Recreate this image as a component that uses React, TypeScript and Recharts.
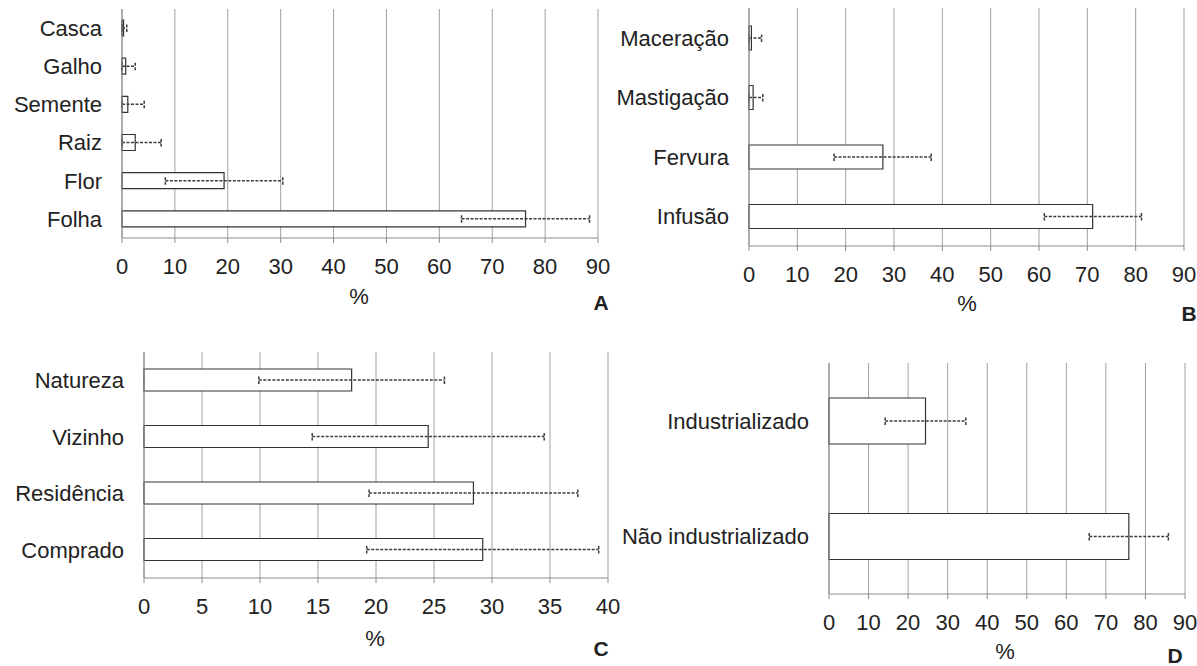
import { Bar, BarChart, CartesianGrid, ErrorBar, XAxis, YAxis } from "recharts";

// A - parte da planta
const partCategories = ["Casca", "Galho", "Semente", "Raiz", "Flor", "Folha"];
const partValues = [0.3, 0.7, 1.1, 2.5, 19.3, 76.3];
const partErrLow = [0.3, 0.7, 1.1, 2.5, 11.1, 12.1];
const partErrHigh = [0.6, 1.8, 3.1, 4.9, 11.1, 12.1];

// B - modo de preparo
const prepCategories = ["Maceração", "Mastigação", "Fervura", "Infusão"];
const prepValues = [0.5, 0.85, 27.7, 71.1];
const prepErrLow = [0.5, 0.85, 10.1, 10.0];
const prepErrHigh = [2.1, 2.0, 10.0, 10.1];

// C - origem
const originCategories = ["Natureza", "Vizinho", "Residência", "Comprado"];
const originValues = [17.9, 24.5, 28.4, 29.2];
const originErr = [8, 10, 9, 10];

// D - industrialização
const industryCategories = ["Industrializado", "Não industrializado"];
const industryValues = [24.4, 75.8];
const industryErr = [10.2, 10];

const ticks90 = [0, 10, 20, 30, 40, 50, 60, 70, 80, 90];
const ticks40 = [0, 5, 10, 15, 20, 25, 30, 35, 40];

const FONT = "'Liberation Sans', Arial, sans-serif";
const TEXT = "#222";
const GRID = "#a0a0a0";
const AXIS = "#8c8c8c";

type Row = { name: string; value: number; err: [number, number] };

function makeRows(cats: string[], vals: number[], lo: number[], hi: number[]): Row[] {
  return cats.map((name, i) => ({ name, value: vals[i], err: [lo[i], hi[i]] }));
}

type PanelProps = {
  left: number;
  top: number;
  width: number;
  height: number;
  margin: { top: number; right: number; bottom: number; left: number };
  data: Row[];
  domain: [number, number];
  ticks: number[];
  barSize: number;
  yWidth: number;
};

function Panel({ left, top, width, height, margin, data, domain, ticks, barSize, yWidth }: PanelProps) {
  const bounds = data.map((_, i) => i).concat(data.length);
  const tickStyle = { fill: TEXT, fontSize: 22, fontFamily: FONT };
  return (
    <div style={{ position: "absolute", left, top }}>
      <BarChart
        width={width}
        height={height}
        data={data}
        layout="vertical"
        margin={margin}
        barSize={barSize}
        style={{ overflow: "visible" }}
      >
        <CartesianGrid horizontal={false} stroke={GRID} yAxisId="cat" />
        <XAxis
          type="number"
          domain={domain}
          ticks={ticks}
          interval={0}
          height={40}
          axisLine={{ stroke: AXIS }}
          tickLine={{ stroke: AXIS }}
          tickSize={5}
          tickMargin={15}
          tick={tickStyle}
        />
        <YAxis
          yAxisId="bd"
          type="number"
          domain={[0, data.length]}
          ticks={bounds}
          interval={0}
          width={0}
          axisLine={false}
          tickLine={{ stroke: AXIS }}
          tickSize={6}
          tick={() => null}
        />
        <YAxis
          yAxisId="cat"
          type="category"
          dataKey="name"
          width={yWidth}
          interval={0}
          axisLine={{ stroke: AXIS }}
          tickLine={false}
          tickSize={0}
          tickMargin={20}
          tick={tickStyle}
        />
        <Bar
          yAxisId="cat"
          dataKey="value"
          fill="#fff"
          stroke="#333"
          strokeWidth={1.2}
          isAnimationActive={false}
        >
          <ErrorBar dataKey="err" direction="x" width={4} stroke="#3c3c3c" strokeDasharray="3 1.5" />
        </Bar>
      </BarChart>
    </div>
  );
}

function Note({ x, y, text, bold }: { x: number; y: number; text: string; bold?: boolean }) {
  return (
    <div
      style={{
        position: "absolute",
        left: x,
        top: y,
        transform: "translate(-50%, -50%)",
        fontFamily: FONT,
        fontSize: bold ? 21 : 22,
        lineHeight: 1,
        fontWeight: bold ? 700 : 400,
        color: TEXT,
        whiteSpace: "nowrap",
      }}
    >
      {text}
    </div>
  );
}

export default function App() {
  return (
    <div style={{ position: "absolute", left: 0, top: 0, width: 1197, height: 666, background: "#fff" }}>
      <Panel
        left={0}
        top={0}
        width={620}
        height={320}
        margin={{ top: 9, right: 22, bottom: 42, left: 0 }}
        data={makeRows(partCategories, partValues, partErrLow, partErrHigh)}
        domain={[0, 90]}
        ticks={ticks90}
        barSize={16}
        yWidth={122}
      />
      <Panel
        left={600}
        top={0}
        width={597}
        height={330}
        margin={{ top: 8, right: 13, bottom: 44, left: 0 }}
        data={makeRows(prepCategories, prepValues, prepErrLow, prepErrHigh)}
        domain={[0, 90]}
        ticks={ticks90}
        barSize={24}
        yWidth={149}
      />
      <Panel
        left={0}
        top={320}
        width={620}
        height={346}
        margin={{ top: 32, right: 12, bottom: 48, left: 0 }}
        data={makeRows(originCategories, originValues, originErr, originErr)}
        domain={[0, 40]}
        ticks={ticks40}
        barSize={22}
        yWidth={144}
      />
      <Panel
        left={620}
        top={330}
        width={577}
        height={336}
        margin={{ top: 33, right: 12, bottom: 32, left: 0 }}
        data={makeRows(industryCategories, industryValues, industryErr, industryErr)}
        domain={[0, 90]}
        ticks={ticks90}
        barSize={46}
        yWidth={209}
      />
      <Note x={359} y={297} text="%" />
      <Note x={601} y={302} text="A" bold />
      <Note x={967} y={304} text="%" />
      <Note x={1189} y={313} text="B" bold />
      <Note x={375} y={639} text="%" />
      <Note x={601} y={648} text="C" bold />
      <Note x={1005} y={652} text="%" />
      <Note x={1175} y={655} text="D" bold />
    </div>
  );
}
